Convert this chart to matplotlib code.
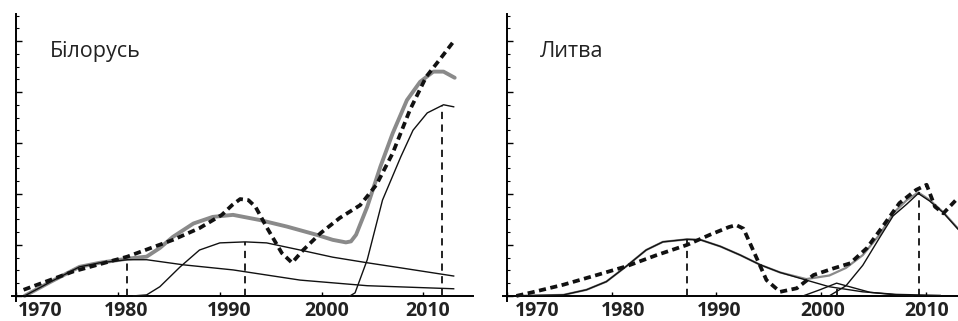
import matplotlib.pyplot as plt
import matplotlib.transforms as mtransforms

# Білорусь: observed series (heavy dashed), model total (grey) and three waves
by_obs_x = [1970.7, 1975.6, 1980.9, 1985.4, 1988.0, 1990.2, 1991.2, 1992.0, 1992.8, 1993.5, 1994.6, 1996.1,
            1997.1, 1998.2, 1999.9, 2001.8, 2003.8, 2005.4, 2007.0, 2008.7, 2010.3, 2011.6, 2013.1]
by_obs_y = [0.12, 0.48, 0.77, 1.10, 1.33, 1.59, 1.78, 1.90, 1.88, 1.75, 1.35, 0.84,
            0.65, 0.90, 1.23, 1.53, 1.78, 2.18, 2.80, 3.65, 4.30, 4.63, 5.02]
by_total_x = [1970.8, 1973.3, 1976.2, 1978.2, 1980.9, 1982.8, 1984.1, 1985.4, 1987.4, 1989.3, 1991.3,
              1993.9, 1996.6, 1999.5, 2001.1, 2002.4, 2002.9, 2003.4, 2004.5, 2005.8, 2007.0, 2008.4,
              2009.7, 2011.0, 2012.0, 2013.1]
by_total_y = [0.0, 0.27, 0.57, 0.65, 0.73, 0.77, 0.94, 1.16, 1.42, 1.55, 1.59,
              1.49, 1.36, 1.20, 1.10, 1.05, 1.07, 1.20, 1.75, 2.54, 3.19, 3.84,
              4.20, 4.40, 4.40, 4.28]
by_w1_x = [1970.8, 1973.3, 1976.2, 1978.2, 1980.9, 1982.8, 1986.4, 1991.3, 1997.9, 2004.5, 2013.0]
by_w1_y = [0.0, 0.27, 0.57, 0.65, 0.71, 0.71, 0.61, 0.51, 0.31, 0.20, 0.14]
by_w2_x = [1981.5, 1982.8, 1984.1, 1986.1, 1988.0, 1990.0, 1992.5, 1994.6, 1997.9, 2001.1, 2004.5, 2007.8, 2013.0]
by_w2_y = [0.0, 0.02, 0.18, 0.57, 0.90, 1.04, 1.06, 1.04, 0.90, 0.76, 0.65, 0.55, 0.39]
by_w3_x = [2002.8, 2003.3, 2004.5, 2006.0, 2007.8, 2009.0, 2010.4, 2012.0, 2013.0]
by_w3_y = [0.0, 0.06, 0.71, 1.88, 2.73, 3.25, 3.59, 3.75, 3.71]
by_peaks_x = [1980.9, 1992.5, 2011.9]
by_peaks_y = [0.71, 1.06, 3.75]

# Литва
lt_obs_x = [1970.9, 1972.4, 1975.4, 1978.6, 1981.4, 1984.3, 1987.2, 1989.4, 1991.2, 1991.9, 1992.6, 1993.8,
            1994.8, 1996.1, 1997.7, 1999.3, 2001.2, 2002.8, 2004.4, 2005.9, 2007.5, 2009.1,
            2010.1, 2010.9, 2011.7, 2012.3, 2012.9]
lt_obs_y = [0.0, 0.07, 0.22, 0.41, 0.58, 0.80, 1.00, 1.20, 1.35, 1.39, 1.32, 0.77,
            0.31, 0.08, 0.15, 0.41, 0.54, 0.64, 0.94, 1.36, 1.82, 2.08,
            2.18, 1.75, 1.62, 1.75, 1.88]
lt_total_x = [1970.9, 1975.4, 1977.6, 1979.5, 1981.4, 1983.3, 1984.9, 1987.2, 1988.5, 1990.4, 1992.3,
              1994.2, 1996.1, 1998.6, 2000.8, 2002.4, 2004.0, 2005.6, 2006.9, 2008.2, 2009.3,
              2010.4, 2011.7, 2013.1]
lt_total_y = [0.0, 0.02, 0.12, 0.28, 0.58, 0.90, 1.06, 1.11, 1.10, 0.97, 0.80,
              0.61, 0.46, 0.33, 0.40, 0.55, 0.80, 1.20, 1.62, 1.88, 2.03,
              1.88, 1.64, 1.32]
lt_w1_x = [1970.9, 1975.4, 1977.6, 1979.5, 1981.4, 1983.3, 1984.9, 1987.2, 1988.5, 1990.4, 1992.3,
           1994.2, 1996.1, 1998.6, 2000.8, 2004.0, 2007.2, 2011.4]
lt_w1_y = [0.0, 0.02, 0.12, 0.28, 0.58, 0.90, 1.06, 1.11, 1.10, 0.97, 0.80,
           0.61, 0.46, 0.31, 0.18, 0.08, 0.03, 0.01]
lt_w2_x = [1998.3, 1999.9, 2001.5, 2003.1, 2004.7, 2007.2, 2008.8]
lt_w2_y = [0.0, 0.12, 0.25, 0.16, 0.07, 0.02, 0.0]
lt_w3_x = [2000.8, 2002.4, 2004.0, 2005.6, 2006.9, 2008.2, 2009.3, 2010.4, 2011.7, 2013.1]
lt_w3_y = [0.0, 0.20, 0.60, 1.14, 1.57, 1.80, 2.01, 1.86, 1.63, 1.31]
lt_peaks_x = [1987.2, 2001.5, 2009.4]
lt_peaks_y = [1.11, 0.25, 2.03]

decades = [1970, 1980, 1990, 2000, 2010]

fig = plt.figure(figsize=(9.58, 3.21), dpi=100)
ax1 = fig.add_axes([0.01294, 0.0623, 0.4808, 0.894])
ax2 = fig.add_axes([0.5248, 0.0623, 0.4752, 0.894])


def draw_panel(ax, name, xmax, obs, total, waves, peaks, label_shift, total_lw):
    ax.plot(*total, color='#8a8a8a', lw=total_lw, solid_capstyle='round', zorder=2)
    for wx, wy in waves:
        ax.plot(wx, wy, color='#111111', lw=1.0, zorder=3)
    for px, py in zip(*peaks):
        ax.plot([px, px], [0, py], color='#111111', lw=1.3, dashes=(4, 3), zorder=3)
    ax.plot(*obs, color='#111111', lw=2.7, dashes=(1.9, 1.2), zorder=4)

    ax.set_xlim(1969.6, xmax)
    ax.set_ylim(-0.1, 5.53)
    for s in ['top', 'right']:
        ax.spines[s].set_visible(False)
    ax.spines['left'].set_position(('data', 1970))
    ax.spines['bottom'].set_position(('data', 0))
    ax.spines['left'].set_linewidth(1.4)
    ax.spines['bottom'].set_linewidth(1.4)

    ax.set_yticks(range(0, 6))
    ax.set_yticks([i * 0.25 for i in range(23)], minor=True)
    ax.tick_params(axis='y', which='major', direction='in', length=4, width=1.0, labelleft=False)
    ax.tick_params(axis='y', which='minor', direction='in', length=2, width=0.8)
    ax.set_xticks(decades)
    ax.set_xticklabels([str(d) for d in decades], fontfamily='Open Sans', fontweight='bold',
                       fontsize=14, color='#222222')
    ax.tick_params(axis='x', direction='in', length=3, width=1.0, pad=4)
    for i, lab in enumerate(ax.get_xticklabels()):
        dx = label_shift[i] / 72.0
        lab.set_transform(lab.get_transform() + mtransforms.ScaledTranslation(dx, 0, fig.dpi_scale_trans))

    ax.text(0.082, 0.85, name, transform=ax.transAxes, fontsize=15.5, fontfamily='Open Sans',
            color='#222222', ha='left', va='baseline')


draw_panel(ax1, 'Білорусь', 2014.9,
           (by_obs_x, by_obs_y), (by_total_x, by_total_y),
           [(by_w1_x, by_w1_y), (by_w2_x, by_w2_y), (by_w3_x, by_w3_y)],
           (by_peaks_x, by_peaks_y), [17, 6, 7, 4, 3], 2.8)
draw_panel(ax2, 'Литва', 2013.1,
           (lt_obs_x, lt_obs_y), (lt_total_x, lt_total_y),
           [(lt_w1_x, lt_w1_y), (lt_w2_x, lt_w2_y), (lt_w3_x, lt_w3_y)],
           (lt_peaks_x, lt_peaks_y), [22, 8, 2, 1, 1], 1.6)

fig.savefig('out.png', dpi=100)
